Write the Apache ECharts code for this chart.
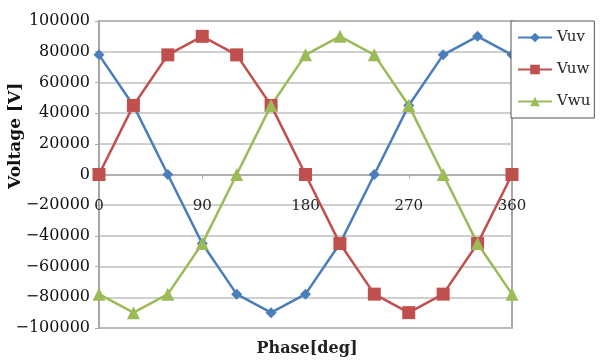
<!DOCTYPE html>
<html><head><meta charset="utf-8">
<script src="https://cdn.jsdelivr.net/npm/echarts@6/dist/echarts.min.js"></script>
<style>html,body{margin:0;padding:0;background:#fff}#c{width:600px;height:363px}</style>
</head><body><div id="c"></div>
<script>
const phase = [0,30,60,90,120,150,180,210,240,270,300,330,360];
const vuv = [77942,45000,0,-45000,-77942,-90000,-77942,-45000,0,45000,77942,90000,77942];
const vuw = [0,45000,77942,90000,77942,45000,0,-45000,-77942,-90000,-77942,-45000,0];
const vwu = [-77942,-90000,-77942,-45000,0,45000,77942,90000,77942,45000,0,-45000,-77942];
const xTicks = [0,90,180,270,360];
const yTicks = [-100000,-80000,-60000,-40000,-20000,0,20000,40000,60000,80000,100000];

const font = '"DejaVu Serif", serif';
const pair = (arr) => phase.map((p,i)=>[p,arr[i]]);
const chart = echarts.init(document.getElementById('c'));
chart.setOption({
  animation:false,
  backgroundColor:'#fff',
  grid:{left:99,right:88,top:21,bottom:35,show:true,borderColor:'#8c8c8c',borderWidth:1.5,
    backgroundColor:'transparent',containLabel:false,outerBoundsMode:'none'},
  xAxis:{type:'value',min:xTicks[0],max:xTicks[xTicks.length-1],interval:90,
    position:'bottom',offset:-153.5,
    axisLine:{onZero:false,lineStyle:{color:'#a6a6a6',width:1.5}},
    axisTick:{show:true,length:4,lineStyle:{color:'#a6a6a6'}},
    axisLabel:{margin:24,color:'#222',fontFamily:font,fontSize:15,formatter:v=>String(v)},
    splitLine:{show:false}
  },
  yAxis:{type:'value',min:yTicks[0],max:yTicks[yTicks.length-1],interval:20000,
    axisLine:{show:true,onZero:false,lineStyle:{color:'#a6a6a6',width:1.5}},
    axisTick:{show:true,length:4,lineStyle:{color:'#a6a6a6'}},
    axisLabel:{margin:9,color:'#111',fontFamily:font,fontSize:16,formatter:v=>String(v).replace('-','\u2212')},
    splitLine:{lineStyle:{color:'#bfbfbf',width:1.5}}
  },
  graphic:[
    {type:'text',x:7,y:189,rotation:Math.PI/2,
      style:{text:'Voltage [V]',font:'bold 17px "DejaVu Serif", serif',fill:'#111'}},
    {type:'text',x:307,y:349,
      style:{text:'Phase[deg]',font:'bold 16px "DejaVu Serif", serif',fill:'#222',align:'center',verticalAlign:'middle'}}
  ],
  legend:{orient:'vertical',left:511,top:21,
    backgroundColor:'#fff',borderColor:'#555',borderWidth:1,
    padding:[9,4,9,6],itemGap:17,itemWidth:34,itemHeight:12,
    textStyle:{fontFamily:font,fontSize:15,color:'#222'},
    data:['Vuv','Vuw','Vwu']},
  series:[
    {name:'Vuv',type:'line',data:pair(vuv),symbol:'diamond',symbolSize:11,
      itemStyle:{color:'#4a7ebb'},lineStyle:{width:2.5,color:'#4a7ebb'}},
    {name:'Vuw',type:'line',data:pair(vuw),symbol:'rect',symbolSize:13,
      itemStyle:{color:'#c0504d'},lineStyle:{width:2.5,color:'#c0504d'}},
    {name:'Vwu',type:'line',data:pair(vwu),symbol:'triangle',symbolSize:13,
      itemStyle:{color:'#9bbb59'},lineStyle:{width:2.5,color:'#9bbb59'}}
  ]
});
</script></body></html>
